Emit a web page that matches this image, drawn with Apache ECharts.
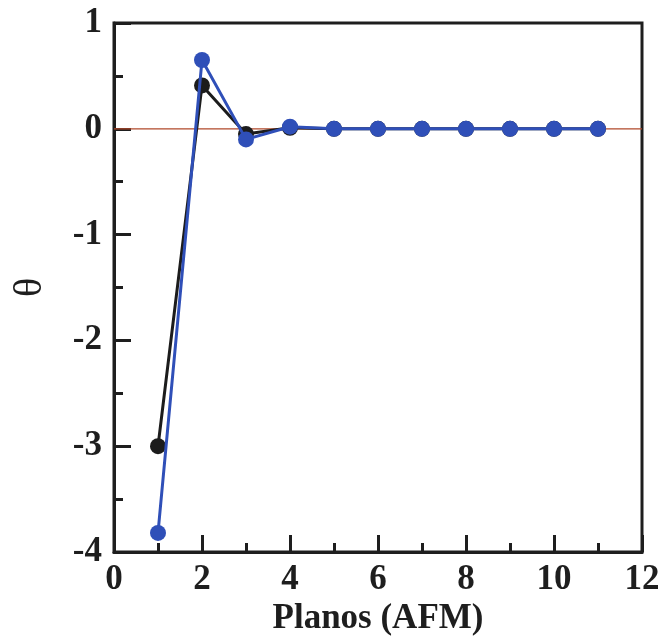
<!DOCTYPE html>
<html>
<head>
<meta charset="utf-8">
<script src="https://cdn.jsdelivr.net/npm/echarts@6/dist/echarts.min.js"></script>
<style>html,body{margin:0;padding:0;background:#fff}#c{width:665px;height:639px}</style>
</head>
<body>
<div id="c"></div>
<script>
const planos = [1, 2, 3, 4, 5, 6, 7, 8, 9, 10, 11];
const thetaBlack = [-3.0, 0.41, -0.05, 0.01, 0, 0, 0, 0, 0, 0, 0];
const thetaBlue = [-3.82, 0.65, -0.1, 0.02, 0, 0, 0, 0, 0, 0, 0];
const zeroLineX = [0, 12];
const zeroLineY = [0, 0];
const xName = 'Planos (AFM)';
const yName = 'θ';

const font = "'Liberation Serif', 'Times New Roman', serif";
const chart = echarts.init(document.getElementById('c'), null, {renderer: 'canvas'});
const pairs = (xs, ys) => xs.map((x, i) => [x, ys[i]]);
chart.setOption({
  animation: false,
  grid: {left: 114, top: 23, right: 23, bottom: 87, containLabel: false, outerBoundsMode: 'none',
    show: true, borderColor: '#1e1e1e', borderWidth: 3, backgroundColor: 'transparent'},
  xAxis: {
    type: 'value', min: 0, max: 12, interval: 2,
    name: xName, nameLocation: 'middle', nameGap: 47,
    nameTextStyle: {fontFamily: font, fontWeight: 'bold', fontSize: 35, color: '#1e1e1e'},
    axisLine: {show: true, onZero: false, lineStyle: {color: '#1e1e1e', width: 3}},
    axisTick: {show: true, inside: true, length: 17, lineStyle: {color: '#1e1e1e', width: 3}},
    minorTick: {show: true, splitNumber: 2, length: 9, lineStyle: {color: '#1e1e1e', width: 3}},
    axisLabel: {fontFamily: font, fontWeight: 'bold', fontSize: 35, color: '#1e1e1e', margin: 10},
    splitLine: {show: false}
  },
  yAxis: {
    type: 'value', min: -4, max: 1, interval: 1,
    name: yName, nameLocation: 'middle', nameGap: 64, nameRotate: 90,
    nameTextStyle: {fontFamily: font, fontWeight: 'normal', fontSize: 40, color: '#1e1e1e'},
    axisLine: {show: true, onZero: false, lineStyle: {color: '#1e1e1e', width: 3}},
    axisTick: {show: true, inside: true, length: 17, lineStyle: {color: '#1e1e1e', width: 3}},
    minorTick: {show: true, splitNumber: 2, length: 9, lineStyle: {color: '#1e1e1e', width: 3}},
    axisLabel: {fontFamily: font, fontWeight: 'bold', fontSize: 35, color: '#1e1e1e', margin: 12},
    splitLine: {show: false}
  },
  series: [
    {
      type: 'line', data: pairs(zeroLineX, zeroLineY), symbol: 'none', silent: true, z: 1,
      lineStyle: {color: '#b0482a', width: 1.2}
    },
    {
      type: 'line', data: pairs(planos, thetaBlack), symbol: 'circle', symbolSize: 16, z: 2,
      itemStyle: {color: '#1c1c1c'}, lineStyle: {color: '#1c1c1c', width: 3}
    },
    {
      type: 'line', data: pairs(planos, thetaBlue), symbol: 'circle', symbolSize: 16, z: 3,
      itemStyle: {color: '#2f4fb8'}, lineStyle: {color: '#2f4fb8', width: 3}
    }
  ]
});
</script>
</body>
</html>
